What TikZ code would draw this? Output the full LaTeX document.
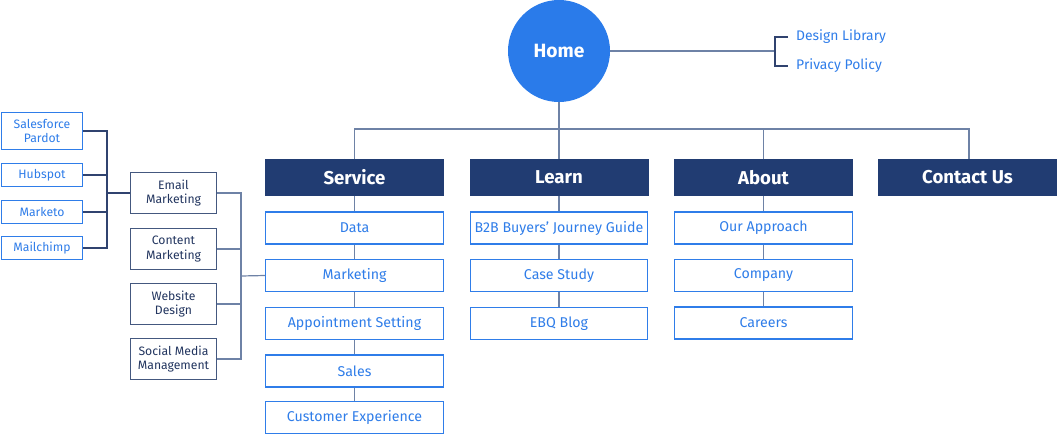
\documentclass[tikz,border=0pt]{standalone}
\usepackage{fontspec}
\setmainfont{Fira Sans}
\definecolor{navy}{HTML}{213C72}
\definecolor{bblue}{HTML}{2F7DE9}
\definecolor{homeC}{HTML}{2A7BEA}
\definecolor{lineC}{HTML}{6E82A6}
\definecolor{darkL}{HTML}{30436F}
\definecolor{midC}{HTML}{44587F}
\definecolor{midT}{HTML}{22355F}
\begin{document}
\begin{tikzpicture}[x=1pt,y=-1pt,
  hdr/.style={fill=navy, draw=navy, text=white, font=\fontsize{18.6}{22}\selectfont\bfseries, minimum width=178pt, minimum height=36pt, inner sep=0pt},
  sub/.style={draw=bblue, line width=1.3pt, fill=white, text=bblue, font=\fontsize{14.2}{17}\selectfont, minimum width=177.5pt, minimum height=32pt, inner sep=0pt},
  mid/.style={draw=midC, line width=1.3pt, fill=white, text=midT, font=\fontsize{12.2}{14.5}\selectfont, align=center, minimum width=86pt, minimum height=41pt, inner sep=0pt},
  lft/.style={draw=bblue, line width=1.3pt, fill=white, text=bblue, font=\fontsize{12.2}{14.5}\selectfont, align=center, minimum width=81pt, inner sep=0pt},
  conn/.style={draw=lineC, line width=1.2pt},
  dconn/.style={draw=darkL, line width=1.2pt},
  lnk/.style={text=bblue, font=\fontsize{13.9}{16}\selectfont, inner sep=0pt, anchor=west}
]
\useasboundingbox (0,0) rectangle (1058,434);

% Home
\node[circle, fill=homeC, text=white, minimum size=102pt, inner sep=0pt, font=\fontsize{19.2}{22}\selectfont\bfseries] (home) at (559,51) {Home};
\node[lnk] (dl) at (796,37) {Design Library};
\node[lnk] (pp) at (796,66) {Privacy Policy};
\coordinate (hb) at (775,51);
\draw[conn] (home.east) -- (hb);
\draw[dconn] ([xshift=-8pt]dl.west) -| (hb) |- ([xshift=-8pt]pp.west);

% headers
\node[hdr] (service) at (354.5,177.5) {Service};
\node[hdr] (learn) at (559,177.5) {Learn};
\node[hdr] (about) at (763.5,177.5) {About};
\node[hdr] (contact) at (967.5,177.5) {Contact Us};
\coordinate (bus) at (559,129);
\draw[conn] (home.south) -- (bus);
\draw[conn] (service.north) -- (service.north |- bus) -- ([xshift=1.5pt]contact.north |- bus) -- ([xshift=1.5pt]contact.north);
\draw[conn] (about.north) -- (about.north |- bus);
\draw[conn] (learn.north) -- (bus);

% Service children
\node[sub] (data) at (354.5,228) {Data};
\node[sub] (mkt) at (354.5,275.5) {Marketing};
\node[sub] (appt) at (354.5,323.5) {Appointment Setting};
\node[sub] (sales) at (354.5,371) {Sales};
\node[sub] (cx) at (354.5,417.5) {Customer Experience};
\draw[conn] (service.south) -- (data.north);
\draw[conn] (data.south) -- (mkt.north);
\draw[conn] (mkt.south) -- (appt.north);
\draw[conn] (appt.south) -- (sales.north);
\draw[conn] (sales.south) -- (cx.north);

% Learn children
\node[sub] (b2b) at (559,228) {B2B Buyers’ Journey Guide};
\node[sub] (case) at (559,275.5) {Case Study};
\node[sub] (blog) at (559,323.5) {EBQ Blog};
\draw[conn] (learn.south) -- (b2b.north);
\draw[conn] (b2b.south) -- (case.north);
\draw[conn] (case.south) -- (blog.north);

% About children
\node[sub] (appr) at (763.5,228) {Our Approach};
\node[sub] (comp) at (763.5,275.5) {Company};
\node[sub] (car) at (763.5,323) {Careers};
\draw[conn] (about.south) -- (appr.north);
\draw[conn] (appr.south) -- (comp.north);
\draw[conn] (comp.south) -- (car.north);

% Marketing sub-branches
\node[mid] (email) at (173.5,193) {Email\\Marketing};
\node[mid] (content) at (173.5,249) {Content\\Marketing};
\node[mid] (web) at (173.5,304) {Website\\Design};
\node[mid] (social) at (173.5,359) {Social Media\\Management};
\coordinate (lb) at (241,276);
\draw[conn] (mkt.west) -- (lb);
\draw[conn] (email.east) -| (lb);
\draw[conn] (social.east) -| (lb);
\draw[conn] (content.east) -- (content.east -| lb);
\draw[conn] (web.east) -- (web.east -| lb);

% Email tools
\node[lft, minimum height=37pt] (sf) at (42,131) {Salesforce\\Pardot};
\node[lft, minimum height=23pt] (hub) at (42,175) {Hubspot};
\node[lft, minimum height=23pt] (mkto) at (42,212) {Marketo};
\node[lft, minimum height=23pt] (mc) at (42,248) {Mailchimp};
\coordinate (lb2) at (107,193);
\draw[dconn] (email.west) -- (lb2);
\draw[dconn] (sf.east) -| (lb2);
\draw[dconn] (mc.east) -| (lb2);
\draw[dconn] (hub.east) -- (hub.east -| lb2);
\draw[dconn] (mkto.east) -- (mkto.east -| lb2);
\end{tikzpicture}
\end{document}
